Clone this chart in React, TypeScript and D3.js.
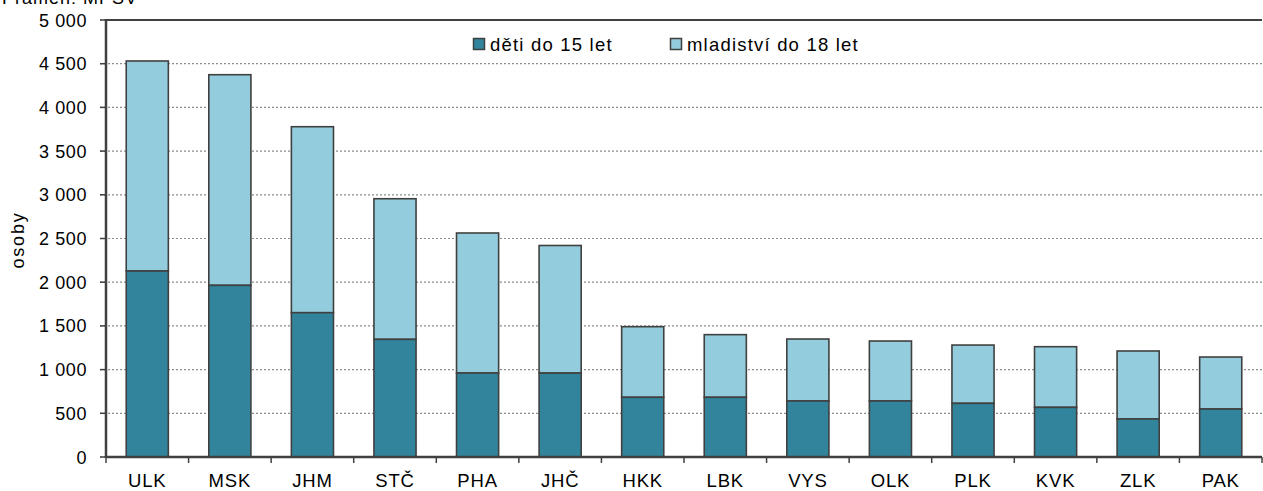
import React from "react";
import * as d3 from "d3";

const regions = ["ULK", "MSK", "JHM", "STČ", "PHA", "JHČ", "HKK", "LBK", "VYS", "OLK", "PLK", "KVK", "ZLK", "PAK"];
const children = [2128, 1964, 1651, 1346, 961, 960, 683, 683, 641, 641, 614, 568, 435, 549];
const totals = [4531, 4374, 3779, 2955, 2563, 2420, 1491, 1400, 1350, 1327, 1281, 1262, 1213, 1144];
const yTicks = [0, 500, 1000, 1500, 2000, 2500, 3000, 3500, 4000, 4500, 5000];
const seriesNames = ["děti do 15 let", "mladiství do 18 let"];

const W = 1263,
  H = 491;
const left = 106,
  right = 1262,
  top = 20,
  bottom = 457;
const dark = "#31849B",
  light = "#93CDDD",
  edge = "#404040";
const font = "'Liberation Sans', Arial, sans-serif";

const fmt = (v: number) => d3.format(",")(v).replace(",", " ");

export default function App() {
  const x = d3.scaleBand().domain(regions).range([left, right]).paddingInner(0.49).paddingOuter(0.245);
  const y = d3.scaleLinear().domain([0, 5000]).range([bottom, top]);
  const step = x.step();
  const bounds = d3.range(regions.length + 1).map((i) => left + i * step);

  return (
    <svg width={W} height={H} style={{ position: "absolute", left: 0, top: 0, background: "#fff" }} fontFamily={font}>
      <text x={2} y={4} fontSize={18} letterSpacing={1} fill="#000">
        Pramen: MPSV
      </text>

      {yTicks.slice(0, -1).map((t) => (
        <line key={t} x1={left - 6} x2={right} y1={y(t)} y2={y(t)} stroke="#8c8c8c" strokeWidth={1.2} strokeDasharray="2,2" />
      ))}
      <line x1={left - 6} x2={left} y1={y(5000)} y2={y(5000)} stroke="#8c8c8c" strokeWidth={1.2} strokeDasharray="2,2" />
      <line x1={left} x2={right} y1={y(5000)} y2={y(5000)} stroke={edge} strokeWidth={2} />

      {yTicks.map((t) => (
        <g key={t}>
          <line x1={left - 6} x2={left} y1={y(t)} y2={y(t)} stroke={edge} strokeWidth={1.5} />
          <text x={87} y={y(t) + 6.5} textAnchor="end" fontSize={18} letterSpacing={0.6} fill="#000">
            {fmt(t)}
          </text>
        </g>
      ))}

      <text transform={`translate(${24},${240}) rotate(-90)`} textAnchor="middle" fontSize={18} letterSpacing={1.8} fill="#000">
        osoby
      </text>

      {regions.map((r, i) => (
        <g key={r}>
          <rect x={x(r)} y={y(totals[i])} width={x.bandwidth()} height={y(children[i]) - y(totals[i])} fill={light} stroke={edge} strokeWidth={1.6} />
          <rect x={x(r)} y={y(children[i])} width={x.bandwidth()} height={y(0) - y(children[i])} fill={dark} stroke={edge} strokeWidth={1.6} />
          <text x={(x(r) as number) + x.bandwidth() / 2} y={487} textAnchor="middle" fontSize={18.5} letterSpacing={0.8} fill="#000">
            {r}
          </text>
        </g>
      ))}

      <line x1={left} x2={left} y1={top - 1} y2={bottom + 1} stroke={edge} strokeWidth={2.5} />
      <line x1={left} x2={right} y1={bottom} y2={bottom} stroke={edge} strokeWidth={2.5} />
      {bounds.map((b, i) => (
        <line key={i} x1={b} x2={b} y1={bottom} y2={bottom + 6} stroke={edge} strokeWidth={1.5} />
      ))}

      {seriesNames.map((n, i) => {
        const lx = i === 0 ? 473 : 670;
        return (
          <g key={n}>
            <rect x={lx + 0.5} y={38.5} width={11} height={11} fill={i === 0 ? dark : light} stroke={edge} strokeWidth={1.5} />
            <text x={lx + 17} y={51} fontSize={18.5} letterSpacing={1.2} fill="#000">
              {n}
            </text>
          </g>
        );
      })}
    </svg>
  );
}
